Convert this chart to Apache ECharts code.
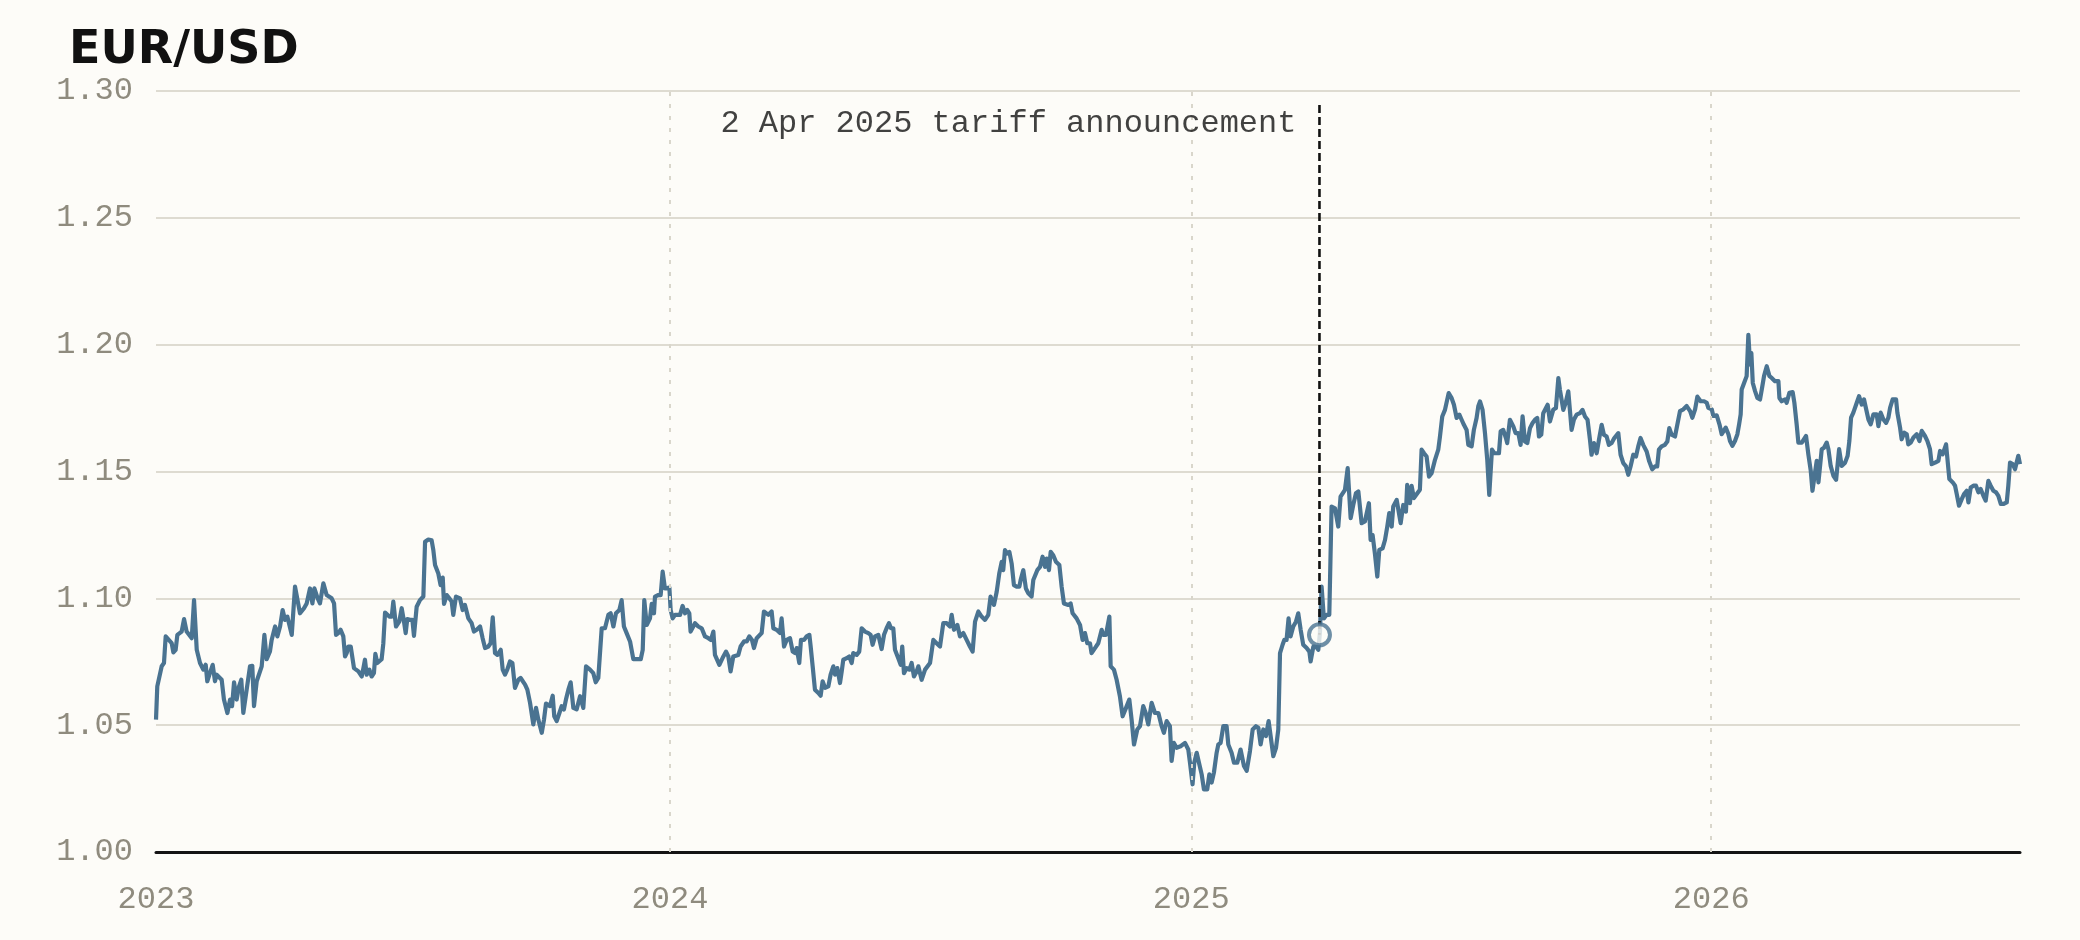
<!DOCTYPE html>
<html>
<head>
<meta charset="utf-8">
<script src="https://cdn.jsdelivr.net/npm/echarts@6/dist/echarts.min.js"></script>
<style>
html,body{margin:0;padding:0;background:#fdfcf8;}
#chart{width:2080px;height:940px;}
</style>
</head>
<body>
<div id="chart"></div>
<script>
const TITLE = 'EUR/USD';
const START_UTC = Date.UTC(2023, 0, 1);           // day offsets below count from 1 Jan 2023
const yearTickDates = ['2024-01-01', '2025-01-01', '2026-01-01'];
const yMin = 1.00, yMax = 1.30, yStep = 0.05;
const annotationDay = 821;                         // 2 Apr 2025
const annotationRate = 1.0856;
const annotationTopRate = 1.2945;
const annotationText = '2 Apr 2025 tariff announcement';

// Segment A: Jan 2023 - Nov 2023
const daysA = [4.2,5.1,8.2,9.8,11,15.2,16.4,18,19.2,22.2,
23.9,25.7,29.3,30.9,32.8,35.1,37.4,39.1,40.2,41.7,
42.8,44,45.6,46.8,50.3,51.9,54.3,56.2,57.6,59,
60.8,62.5,64.1,65.5,66.9,70.2,71.8,73,74.9,78.4,
80.3,81.9,84.2,85.4,87.8,89.4,91.3,93.1,94.8,96.4,
99.5,101.8,105.3,106.5,108.1,110,112.3,114,115.4,117.7,
119.3,121.7,124,127.5,129.2,130.6,132.2,133.8,135.7,136.9,
138.1,139.2,140.9,143.2,146.3,148.6,149.8,150.9,152.1,154,
155.6,157.2,158.2,159.6,162.6,163.8,165,168,169.7,170.8,
172.7,175,176.7,178.3,179.5,180.6,182.5,184.2,185.3,187.2,
189.5,191.9,193.1,195.4,197.7,198.9,200.1,201.2,202.4,204,
205.5,206.4,208.3,210.1,211.8,212.9,214.8,217.6,219.5,221.1,
223.5,225.8,227.4,229.3,231.7,233.5,235.2,237.5,239.1,240.6,
242.2,243.8,246.2,247.6,249.2,250.8,252.7,254.4,256.2,258.6,
260.2,263.3,264.9,266.8,269.1,271,272.6,275,276.6,278,
280.8,282.7,283.8,285.5,287.4,289,290.6,292,293.7,295.3,
297.2,299.5,301.9,304.2,306.1,308.9,311.2,312.9,314.7];
const ratesA = [1.0522,1.0653,1.0732,1.0745,1.085,1.0823,1.0787,1.0797,1.0856,1.0869,
1.0918,1.0869,1.0843,1.0993,1.0797,1.0745,1.0719,1.0738,1.0673,1.0699,
1.0705,1.0738,1.0673,1.0699,1.0679,1.0601,1.0548,1.0601,1.0575,1.0669,
1.0601,1.0653,1.0679,1.0548,1.0548,1.0732,1.0734,1.0575,1.0673,1.0732,
1.0856,1.076,1.0791,1.0836,1.0889,1.085,1.0889,1.0954,1.0915,1.0928,
1.0856,1.1046,1.0941,1.0935,1.0961,1.098,1.1039,1.098,1.1039,1.10,
1.098,1.1059,1.1013,1.10,1.098,1.0856,1.0863,1.0876,1.085,1.0771,
1.0784,1.081,1.081,1.0725,1.0712,1.0692,1.0725,1.0758,1.0699,1.0719,
1.0692,1.0705,1.0781,1.0745,1.076,1.0823,1.0944,1.0928,1.0928,1.0987,
1.0889,1.0908,1.0961,1.0908,1.0863,1.0918,1.0915,1.0915,1.0852,1.0967,
1.0993,1.1007,1.1223,1.1232,1.1229,1.119,1.1131,1.1124,1.1098,1.1052,
1.1082,1.0978,1.1013,1.10,1.0987,1.0935,1.1007,1.10,1.0954,1.0974,
1.0921,1.0902,1.0869,1.0876,1.0889,1.0843,1.0804,1.081,1.0823,1.0925,
1.0784,1.0777,1.0797,1.0719,1.0699,1.0719,1.0751,1.0745,1.0647,1.0679,
1.0686,1.066,1.064,1.0588,1.0503,1.0568,1.0522,1.047,1.0522,1.0585,
1.0575,1.0616,1.0535,1.0516,1.0548,1.0575,1.0562,1.0601,1.064,1.0669,
1.0568,1.0562,1.0614,1.0568,1.0732,1.0719,1.0705,1.0669,1.0686];

// Segment B: Nov 2023 - Sep 2024
const daysB = [315.9,317.1,319.4,321.8,323.4,325.3,327.1,329.5,331.1,332.7,
334.6,337,339.3,341.6,344.5,345.9,347,348.7,351,352.2,
353.8,354.5,356.9,358.5,359.9,361.5,362.7,364.6,365.5,366.9,
368.6,372.1,373.9,375.6,377.2,378.6,379.5,382.6,384.9,387.3,
389.6,392,393.8,395.5,396.6,399.7,402.5,404.4,406,407.6,
409.5,413,414.6,417,418.9,420.7,422.6,424,425.9,429.4,
431,434.1,436.4,437.6,439.9,442.3,443.4,445.1,447,449.3,
451.2,452.8,454,455.8,457,459.1,461,462.9,463.8,465.2,
466.8,469.2,470.8,472.2,473.9,476.2,477.8,479.7,480.9,482.5,
484.4,485.6,486.7,489.1,490.9,492.6,493.7,496.1,497.9,499.6,
501.9,504.3,505.9,507.3,509,511.3,513.6,515.3,517.1,518.8,
520.2,521.8,523,525.3,527,528.1,529.3,531.2,533.1,534.7,
536.3,538.2,539.4,541.7,544.1,547.6,549.9,552.2,554.6,556.9,
559.3,561.6,562.8,564.4,566.8,568.6,571,573.3,575.6,577.5,
579.2,581.5,583.8,586.2,588.5,590.1,592.5,594.4,596.2,597.9,
599,600.2,601.8,603.3,604.9,606.5,608.4,610.3,611.2,613.1,
614.9,616.6,618.9,620.1,622.9,624.8,626.6,628.3,629.5,631.1,
632.3,634.1,636,638.4];
const ratesB = [1.0692,1.0882,1.0882,1.0935,1.0941,1.0889,1.0941,1.0954,1.0993,1.0889,
1.0863,1.083,1.076,1.076,1.076,1.0797,1.0993,1.0895,1.0921,1.0978,
1.0941,1.1007,1.1013,1.1013,1.1105,1.1039,1.1046,1.1043,1.0954,1.0921,
1.0935,1.0935,1.097,1.0941,1.0954,1.0941,1.0869,1.0902,1.0889,1.0882,
1.085,1.0843,1.0836,1.0869,1.0777,1.0738,1.0771,1.079,1.0771,1.0712,
1.0771,1.0777,1.081,1.083,1.083,1.085,1.0836,1.0804,1.0843,1.0863,
1.0948,1.0935,1.0948,1.0882,1.0876,1.0863,1.0921,1.081,1.0836,1.0843,
1.079,1.0784,1.0804,1.0745,1.0836,1.0836,1.085,1.0856,1.081,1.0732,
1.064,1.0627,1.0616,1.0673,1.0647,1.0653,1.0699,1.0732,1.0699,1.0725,
1.0666,1.0712,1.0758,1.0764,1.0771,1.0745,1.0784,1.0777,1.079,1.0882,
1.0869,1.0863,1.0856,1.0817,1.085,1.0856,1.08,1.0856,1.0882,1.0902,
1.0882,1.0882,1.0797,1.0764,1.0738,1.081,1.0705,1.0725,1.0719,1.0745,
1.0692,1.0712,1.0732,1.0679,1.0719,1.0745,1.0836,1.0823,1.081,1.0902,
1.0902,1.0889,1.0935,1.0876,1.0895,1.085,1.0863,1.0836,1.081,1.079,
1.0908,1.0948,1.0928,1.0915,1.0935,1.1007,1.0974,1.1026,1.1098,1.1144,
1.1111,1.119,1.1177,1.1183,1.1137,1.1052,1.1046,1.1046,1.1072,1.1111,
1.1039,1.102,1.1007,1.1072,1.1111,1.1124,1.1164,1.1124,1.1157,1.1111,
1.1183,1.117,1.1144,1.1131];

// Segment C: Oct 2024 - Apr 2025
const daysC = [640,641.6,644.7,646.3,647.7,650.5,652.9,654.7,656.4,658,
659.9,661,663.4,665.7,668.1,669.2,671.1,673.5,674.4,676.7,
678.6,680.9,682.8,685.2,687.5,689.1,690.8,693.1,695,697.3,
699,700.8,703.2,705.5,707.9,710.2,711.8,713.7,716,717.2,
718.8,720.7,723.5,726.6,728.9,730.1,731.9,733.1,734.8,736.4,
738.3,739.9,742.2,743.7,745.3,746.9,748.8,750,751.6,753.5,
755.8,757,759.3,761,763.3,765.6,768,769.9,772.2,774.1,
776.4,778.1,779.7,781.6,783.4,785.3,786.7,788.6,790.5,792.1,
793.3,795.1,796.3,797.9,799.3,800.7,802.6,804.5,806.1,807.8,
809.6,812,813.9,814.8,816.7,818.5,820.2,821.3,822.5,824.1,
826,827.9];
const ratesC = [1.1046,1.098,1.0974,1.098,1.0941,1.0921,1.0895,1.0836,1.0863,1.0823,
1.0823,1.0784,1.0804,1.0823,1.0876,1.0856,1.0856,1.0928,1.0732,1.0719,
1.0679,1.0614,1.0535,1.0568,1.0601,1.0522,1.0424,1.0483,1.0496,1.0575,
1.0548,1.0503,1.0588,1.0548,1.0548,1.0496,1.047,1.0516,1.0496,1.0359,
1.043,1.0411,1.0417,1.043,1.0404,1.0352,1.0267,1.0352,1.0391,1.0352,
1.0306,1.0247,1.0247,1.0306,1.0274,1.0313,1.0391,1.0424,1.043,1.0496,
1.0496,1.0424,1.0391,1.0352,1.0352,1.0404,1.0339,1.032,1.0398,1.0483,
1.0496,1.049,1.0424,1.0483,1.0457,1.0516,1.0516,1.0378,1.0411,1.0483,
1.0784,1.0817,1.0836,1.0836,1.0921,1.085,1.0889,1.0908,1.0941,1.0876,
1.0817,1.0804,1.079,1.0751,1.081,1.081,1.0797,1.0863,1.1046,1.0921,
1.0935,1.0935];

// Segment D: Apr 2025 - Jan 2026
const daysD = [829.5,831.9,834.2,835.8,838.9,840.8,842.9,844.7,846.6,848.3,
850.6,852.9,855.7,856.9,858.3,859.9,861.6,863,865.3,867,
868.6,870,871.7,872.8,875.2,878,879.8,881.7,882.6,884.5,
885.7,887.3,889.7,891.5,892.7,894.4,896.2,897.9,899.7,902.1,
904.4,905.6,907.2,909.1,911.7,913.8,915.4,917.3,919.2,920.8,
922.4,924.3,925.5,927.8,929.4,931.3,932.5,933.7,935.5,937.2,
938.8,940.2,941.1,942.1,943.7,947,948.2,950,951.9,952.8,
954.7,957.1,958.7,960.6,962.2,963.6,965.3,966.9,968.8,970.6,
972.3,973.9,975.1,976.7,978.1,980,981.2,982.8,985.1,987,
988.7,989.8,991,992.2,993.8,995.7,996.8,998,999.6,1001.5,
1003.9,1005.7,1007.4,1009.2,1010.9,1012,1013.7,1015.6,1017.2,1019.1,
1020.7,1022.6,1024.2,1026.1,1028,1030.8,1032.4,1034.3,1036.2,1037.8,
1039.4,1041.3,1043.2,1044.8,1046.4,1048.3,1050.7,1052.5,1054.6,1056.5,
1058.1,1059.3,1061.2,1063.5,1065.2,1066.6,1068.2,1070.6,1071.7];
const ratesD = [1.1362,1.1355,1.1283,1.1401,1.1428,1.1513,1.1316,1.1368,1.1414,1.1421,
1.1296,1.1303,1.1375,1.123,1.125,1.1178,1.1086,1.1191,1.1197,1.123,
1.1283,1.1336,1.1283,1.1362,1.1388,1.1296,1.1368,1.1342,1.1447,1.1375,
1.1443,1.1395,1.1414,1.1428,1.1586,1.1572,1.1559,1.148,1.1493,1.1546,
1.1586,1.1638,1.1717,1.1743,1.1809,1.1789,1.1763,1.1711,1.1724,1.1704,
1.1684,1.1664,1.1605,1.1599,1.1664,1.1711,1.1757,1.1776,1.1743,1.1651,
1.1546,1.1408,1.1408,1.1586,1.1572,1.1572,1.1658,1.1664,1.1632,1.1612,
1.1704,1.1678,1.1651,1.1651,1.1605,1.1717,1.1618,1.1612,1.1671,1.1691,
1.1704,1.1711,1.1638,1.1645,1.173,1.175,1.1763,1.1697,1.1743,1.175,
1.1868,1.1822,1.1822,1.1743,1.177,1.1816,1.1743,1.1664,1.1704,1.1724,
1.173,1.1743,1.1717,1.1704,1.1625,1.1566,1.1612,1.1572,1.1625,1.1684,
1.1645,1.1638,1.1605,1.1612,1.1632,1.1651,1.1566,1.1533,1.152,1.1487,
1.152,1.1566,1.1559,1.1599,1.1632,1.1605,1.1579,1.154,1.1509,1.152,
1.152,1.1586,1.1599,1.1605,1.1618,1.1671,1.1645,1.1638,1.1632];

// Segment E: Jan 2026 - Aug 2026
const daysE = [1074.1,1076.5,1078.8,1081.2,1082.8,1084.7,1086.3,1088.6,1091,1092.9,
1094,1096.4,1097.5,1099.9,1101.8,1103.4,1104.6,1106.2,1108.1,1109.2,
1110.9,1112.7,1114.4,1115.6,1116.7,1117.4,1119.1,1120.9,1122.1,1123.3,
1124.2,1125.2,1126.8,1128.4,1130.3,1131.5,1133.1,1135,1136.9,1138.5,
1140.8,1143.2,1143.9,1145.5,1147.9,1149,1150.9,1153.2,1154.4,1156,
1157.2,1159.6,1160.7,1162.6,1164.2,1165.9,1167.1,1168.4,1170.1,1171.3,
1172.4,1173.6,1175.2,1177.1,1178.3,1179.9,1181.8,1183.7,1185.8,1187.6,
1190,1191.8,1193,1194.2,1195.8,1198.2,1199.8,1201.7,1203.3,1204.7,
1206.4,1208,1209.9,1212.2,1213.4,1215,1216.9,1218.8,1220.4,1221.6,
1223.4,1225.8,1226.7,1228.6,1229.7,1231.6,1233.3,1234.4,1236.1,1238,
1240.3,1242.2,1243.8,1246.1,1247.8,1249.6,1250.8,1253.2,1255.5,1256.7,
1258.5,1260.9,1261.8,1263.2,1265.6,1267.2,1268.4,1270,1271.9,1273.5,
1275.4,1276.6,1278.2,1280.1,1281.9,1283.6,1285.2,1287.1,1288.7,1290.6,
1292.2,1294.1,1296,1297.6,1299.3,1301.1,1303.5,1304.6,1305.8,1307.7,
1309.3,1310.5,1311.6,1312.8];
const ratesE = [1.1738,1.1745,1.1758,1.1738,1.1712,1.1745,1.1795,1.1777,1.1777,1.1771,
1.1751,1.1745,1.1719,1.1721,1.1686,1.1647,1.164,1.1673,1.1647,1.162,
1.1601,1.162,1.1647,1.1686,1.1725,1.1823,1.1849,1.1876,1.2039,1.1921,
1.1967,1.1849,1.1817,1.179,1.1784,1.1823,1.1876,1.1915,1.1876,1.1869,
1.1856,1.1856,1.179,1.1777,1.1784,1.1771,1.181,1.1813,1.1771,1.1686,
1.1614,1.1614,1.162,1.164,1.1568,1.1503,1.1424,1.1476,1.1542,1.1457,
1.1457,1.1588,1.1594,1.1614,1.1588,1.1522,1.1483,1.1467,1.1588,1.1522,
1.1535,1.1562,1.162,1.1712,1.1732,1.1771,1.1797,1.1764,1.1784,1.179,
1.1705,1.1686,1.1725,1.1725,1.1679,1.1732,1.1705,1.1692,1.1712,1.1751,
1.1784,1.1784,1.1732,1.1673,1.1627,1.1653,1.1647,1.1607,1.1614,1.1634,
1.1647,1.162,1.166,1.164,1.162,1.1588,1.1529,1.1535,1.1542,1.1581,
1.1568,1.1607,1.1614,1.147,1.1457,1.1444,1.1411,1.1365,1.1391,1.1411,
1.1424,1.1378,1.1437,1.1444,1.1444,1.1418,1.1431,1.1404,1.1385,1.1463,
1.1444,1.1424,1.1418,1.1404,1.1372,1.1372,1.1378,1.1444,1.1535,1.1529,
1.1509,1.1509,1.1562,1.1529];

const days = [].concat(daysA, daysB, daysC, daysD, daysE);
const rates = [].concat(ratesA, ratesB, ratesC, ratesD, ratesE);

const DAY_MS = 86400000;
const toTime = d => START_UTC + d * DAY_MS;
const seriesData = [];
for (let i = 0; i < Math.min(days.length, rates.length); i++) {
  seriesData.push([toTime(days[i]), rates[i]]);
}
const xMinT = toTime(days[0]);
const xMaxT = toTime(days[days.length - 1]);
const yearTimes = yearTickDates.map(s => Date.parse(s + 'T00:00:00Z'));
const annT = toTime(annotationDay);

const BG = '#fdfcf8';
const LINE = '#4a7391';
const GREY = '#8f8b7e';
const MONO = '"Liberation Mono", "DejaVu Sans Mono", monospace';

const chart = echarts.init(document.getElementById('chart'), null, {renderer: 'canvas'});
chart.setOption({
  backgroundColor: BG,
  animation: false,
  title: {
    text: TITLE,
    left: 64,
    top: 23,
    textStyle: {fontFamily: '"DejaVu Sans", sans-serif', fontWeight: 'bold', fontSize: 46, color: '#111111'}
  },
  grid: {left: 156, right: 60, top: 91, bottom: 88, containLabel: false},
  xAxis: {
    type: 'value',
    min: xMinT,
    max: xMaxT,
    axisLine: {show: true, lineStyle: {color: '#141414', width: 3}},
    axisTick: {show: false},
    splitLine: {show: false},
    axisLabel: {
      customValues: [xMinT].concat(yearTimes),
      formatter: v => String(new Date(v).getUTCFullYear()),
      fontFamily: MONO, fontSize: 32, color: GREY, margin: 32
    }
  },
  yAxis: {
    type: 'value',
    min: yMin, max: yMax, interval: yStep,
    axisLine: {show: false},
    axisTick: {show: false},
    splitLine: {show: true, lineStyle: {color: '#dedbd1', width: 2}},
    axisLabel: {
      formatter: v => v.toFixed(2),
      fontFamily: MONO, fontSize: 32, color: GREY, margin: 23
    }
  },
  series: [
    {
      name: 'years', type: 'line', data: [], z: 1, silent: true,
      markLine: {
        silent: true, symbol: ['none', 'none'], label: {show: false},
        lineStyle: {color: '#d9d6cb', width: 2, type: [4, 8]},
        data: yearTimes.map(t => ({xAxis: t}))
      }
    },
    {
      name: 'EUR/USD', type: 'line', data: seriesData, z: 3,
      showSymbol: false, symbol: 'none',
      lineStyle: {color: LINE, width: 4.2, join: 'round'},
      itemStyle: {color: LINE}
    },
    {
      name: 'annotationLine', type: 'line', z: 4, silent: true,
      data: [[annT, annotationTopRate], [annT, annotationRate]],
      showSymbol: false, symbol: 'none',
      lineStyle: {color: '#111111', width: 2.6, type: [8, 4]}
    },
    {
      name: 'annotationLabel', type: 'scatter', z: 5, silent: true,
      data: [[annT, annotationTopRate]],
      symbolSize: 0,
      label: {
        show: true, position: 'left', distance: 23, offset: [0, 19],
        formatter: annotationText,
        fontFamily: MONO, fontSize: 32, color: '#111111'
      }
    },
    {
      name: 'annotationPoint', type: 'scatter', z: 6, silent: true,
      data: [[annT, annotationRate]],
      symbol: 'circle', symbolSize: 21,
      itemStyle: {color: BG, borderColor: LINE, borderWidth: 4}
    }
  ]
});
</script>
</body>
</html>
